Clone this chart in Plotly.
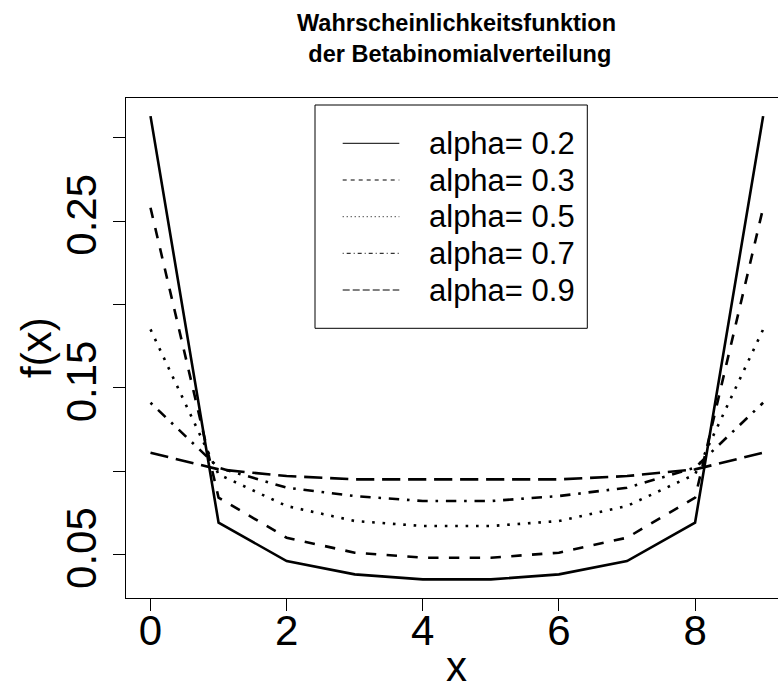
import plotly.graph_objects as go

# ---- data ----
x_vals = [0, 1, 2, 3, 4, 5, 6, 7, 8, 9]
alpha_labels = ["alpha= 0.2", "alpha= 0.3", "alpha= 0.5", "alpha= 0.7", "alpha= 0.9"]
f_alpha02 = [0.313, 0.069, 0.046, 0.038, 0.035, 0.035, 0.038, 0.046, 0.069, 0.313]
f_alpha03 = [0.258, 0.084, 0.060, 0.051, 0.048, 0.048, 0.051, 0.060, 0.084, 0.258]
f_alpha05 = [0.185, 0.098, 0.079, 0.070, 0.067, 0.067, 0.070, 0.079, 0.098, 0.185]
f_alpha07 = [0.141, 0.102, 0.090, 0.085, 0.082, 0.082, 0.085, 0.090, 0.102, 0.141]
f_alpha09 = [0.111, 0.101, 0.097, 0.095, 0.095, 0.095, 0.095, 0.097, 0.101, 0.111]
x_ticks = [0, 2, 4, 6, 8]
y_ticks = [0.05, 0.10, 0.15, 0.20, 0.25, 0.30]
y_ticktext = ["0.05", "", "0.15", "", "0.25", ""]

series = [f_alpha02, f_alpha03, f_alpha05, f_alpha07, f_alpha09]

# ---- styles ----
FONT = "Liberation Sans, Arial, Helvetica, sans-serif"
W, H = 778, 697
ML, MR, MT, MB = 126, 0, 98, 99
PW, PH = W - ML - MR, H - MT - MB
lw = 2.6
main_dash = ["solid", "10.4px,10.4px", "2.6px,7.8px", "2.6px,7.8px,10.4px,7.8px", "18.2px,7.8px"]
leg_dash = ["solid", "4px,4px", "1px,3px", "1px,3px,4px,3px", "7px,3px"]


def px_x(p):
    return (p - ML) / PW


def px_y(p):
    return (H - MB - p) / PH


fig = go.Figure()
for vals, lab, d in zip(series, alpha_labels, main_dash):
    fig.add_trace(go.Scatter(x=x_vals, y=vals, mode="lines", name=lab,
                             line=dict(color="black", width=lw, dash=d),
                             showlegend=False, hoverinfo="skip"))

# manual legend (R style)
shapes = [dict(type="rect", xref="paper", yref="paper",
               x0=px_x(315), x1=px_x(587.3), y0=px_y(328.3), y1=px_y(105),
               line=dict(color="black", width=1), fillcolor="rgba(0,0,0,0)")]
annotations = []
row_y = [143.3, 180.0, 216.7, 253.3, 290.0]
for lab, d, ry in zip(alpha_labels, leg_dash, row_y):
    shapes.append(dict(type="line", xref="paper", yref="paper",
                       x0=px_x(342.7), x1=px_x(399.3), y0=px_y(ry), y1=px_y(ry),
                       line=dict(color="black", width=1, dash=d)))
    annotations.append(dict(text=lab, xref="paper", yref="paper",
                            x=px_x(426.5), y=px_y(ry), xanchor="left", yanchor="middle",
                            showarrow=False, font=dict(family=FONT, size=31, color="black")))

# axis titles
annotations.append(dict(text="x", xref="paper", yref="paper",
                        x=px_x(456.8), y=px_y(666), xanchor="center", yanchor="middle",
                        showarrow=False, font=dict(family=FONT, size=42, color="black")))
annotations.append(dict(text="f(x)", xref="paper", yref="paper", textangle=-90,
                        x=px_x(36), y=px_y(348), xanchor="center", yanchor="middle",
                        showarrow=False, font=dict(family=FONT, size=42, color="black")))

# title
annotations.append(dict(text="<b>Wahrscheinlichkeitsfunktion<br>\u00a0der Betabinomialverteilung</b>",
                        xref="paper", yref="paper", x=px_x(456.8), y=px_y(39),
                        xanchor="center", yanchor="middle", showarrow=False,
                        font=dict(family=FONT, size=23.5, color="black")))

fig.update_layout(
    width=W, height=H,
    margin=dict(l=ML, r=MR, t=MT, b=MB, autoexpand=False),
    paper_bgcolor="white", plot_bgcolor="white",
    font=dict(family=FONT, color="black"),
    shapes=shapes, annotations=annotations,
)
fig.update_xaxes(range=[-0.36, -0.36 + PW / 68.07], showgrid=False, zeroline=False,
                 showline=True, mirror=True, linecolor="black", linewidth=1,
                 ticks="outside", ticklen=12, tickwidth=1, tickcolor="black",
                 tickvals=x_ticks, ticktext=[str(v) for v in x_ticks], ticklabelstandoff=-16,
                 tickfont=dict(family=FONT, size=42, color="black"), automargin=False)
fig.update_yaxes(range=[0.0238, 0.3239], showgrid=False, zeroline=False,
                 showline=True, mirror=False, linecolor="black", linewidth=1,
                 ticks="outside", ticklen=12, tickwidth=1, tickcolor="black",
                 tickvals=y_ticks, ticktext=y_ticktext, tickangle=-90,
                 tickfont=dict(family=FONT, size=42, color="black"), automargin=False)

fig.write_html("out.html", config={"displayModeBar": False},
               post_script="document.body.style.margin='0';document.body.style.overflow='hidden';")
